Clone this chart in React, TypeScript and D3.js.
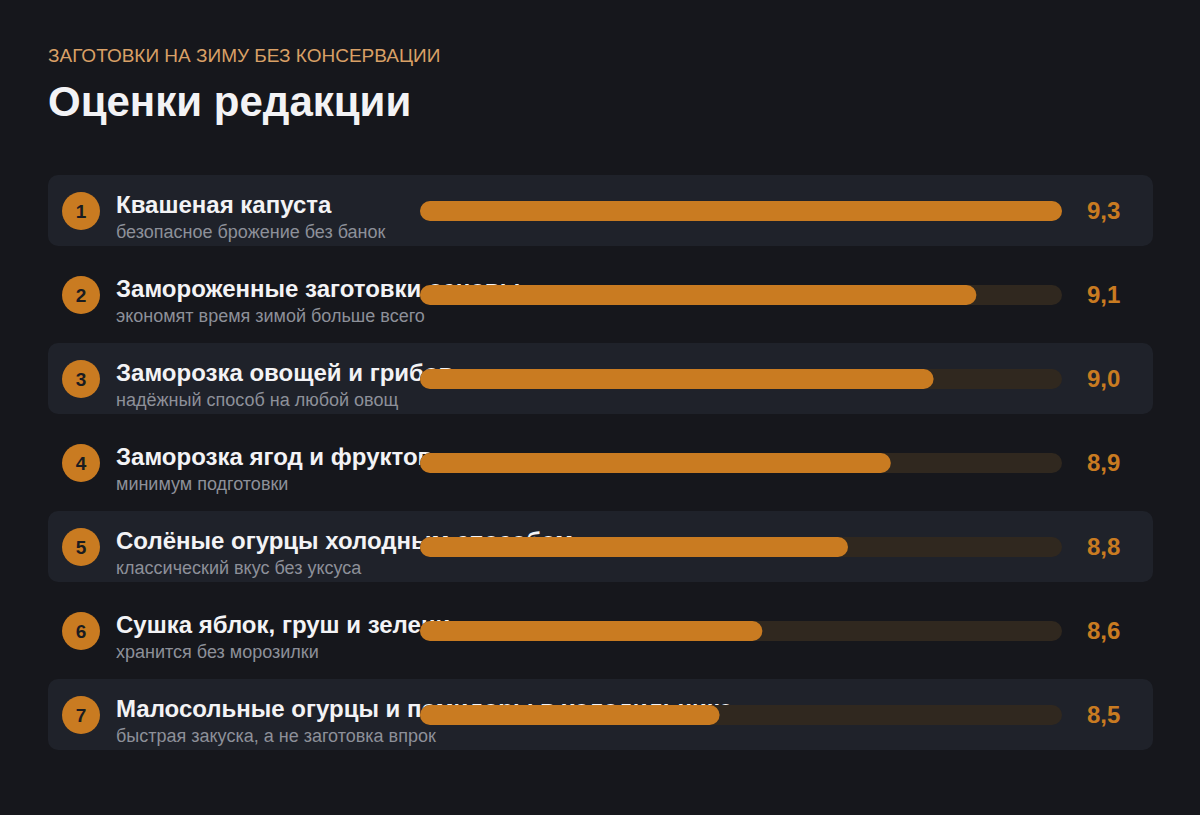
import React from "react";
import * as d3 from "d3";

const ranks = [1, 2, 3, 4, 5, 6, 7];
const titles = [
  "Квашеная капуста",
  "Замороженные заготовки основы",
  "Заморозка овощей и грибов",
  "Заморозка ягод и фруктов",
  "Солёные огурцы холодным способом",
  "Сушка яблок, груш и зелени",
  "Малосольные огурцы и помидоры в холодильнике",
];
const subtitles = [
  "безопасное брожение без банок",
  "экономят время зимой больше всего",
  "надёжный способ на любой овощ",
  "минимум подготовки",
  "классический вкус без уксуса",
  "хранится без морозилки",
  "быстрая закуска, а не заготовка впрок",
];
const scores = [9.3, 9.1, 9.0, 8.9, 8.8, 8.6, 8.5];

const W = 1200;
const H = 815;
const FONT = "'Liberation Sans', Arial, Helvetica, sans-serif";
const ORANGE = "#c97b21";

export default function App() {
  const x = d3.scaleLinear().domain([7.8, 9.3]).range([420, 1062]);
  const y = d3
    .scaleBand<number>()
    .domain(ranks)
    .range([175, 175 + 84 * 7])
    .paddingInner(0);
  const fmt = (v: number) => d3.format(".1f")(v).replace(".", ",");
  return (
    <svg
      width={W}
      height={H}
      style={{ position: "absolute", left: 0, top: 0, background: "#16171c" }}
    >
      <rect x={0} y={0} width={W} height={H} fill="#16171c" />
      <text x={48} y={62} fill="#d9a066" fontSize={19} fontFamily={FONT}>
        ЗАГОТОВКИ НА ЗИМУ БЕЗ КОНСЕРВАЦИИ
      </text>
      <text x={48} y={116} fill="#f3f3f5" fontSize={42} fontWeight={700} fontFamily={FONT}>
        Оценки редакции
      </text>
      {ranks.map((r, i) => {
        const top = y(r)!;
        const cy = top + 36;
        return (
          <g key={r}>
            {i % 2 === 0 && (
              <rect x={48} y={top} width={1105} height={71} rx={10} fill="#1f222a" />
            )}
            <circle cx={81} cy={cy} r={19} fill={ORANGE} />
            <text
              x={81}
              y={cy + 7}
              textAnchor="middle"
              fill="#1a1b20"
              fontSize={19}
              fontWeight={700}
              fontFamily={FONT}
            >
              {r}
            </text>
            <text x={116} y={top + 38} fill="#f3f3f5" fontSize={24} fontWeight={700} fontFamily={FONT}>
              {titles[i]}
            </text>
            <text x={116} y={top + 63} fill="#8d9099" fontSize={18} fontFamily={FONT}>
              {subtitles[i]}
            </text>
            <rect
              x={x(7.8)}
              y={cy - 10}
              width={x(9.3) - x(7.8)}
              height={20}
              rx={10}
              fill="#30281f"
            />
            <rect
              x={x(7.8)}
              y={cy - 10}
              width={x(scores[i]) - x(7.8)}
              height={20}
              rx={10}
              fill={ORANGE}
            />
            <text x={1087} y={cy + 8} fill={ORANGE} fontSize={24} fontWeight={700} fontFamily={FONT}>
              {fmt(scores[i])}
            </text>
          </g>
        );
      })}
    </svg>
  );
}
